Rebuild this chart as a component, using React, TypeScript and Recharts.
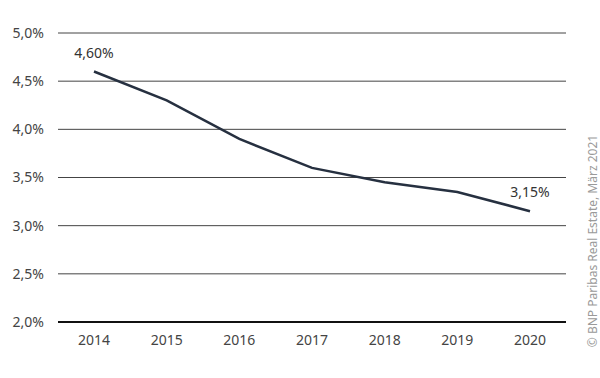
import { CartesianGrid, LabelList, Line, LineChart, ReferenceLine, XAxis, YAxis } from "recharts"

const years = ["2014", "2015", "2016", "2017", "2018", "2019", "2020"]
const yieldValues = [4.6, 4.3, 3.9, 3.6, 3.45, 3.35, 3.15]
const yTicks = [2, 2.5, 3, 3.5, 4, 4.5, 5]

const data = years.map((year, i) => ({ year, value: yieldValues[i] }))

const fmtAxis = (v: number) => v.toFixed(1).replace(".", ",") + "%"
const fmtLabel = (v: number) => v.toFixed(2).replace(".", ",") + "%"

const font = "'Noto Sans', sans-serif"

function EndLabel(props: any) {
  const { x, y, value, index } = props
  if (index !== 0 && index !== data.length - 1) return null
  return (
    <text x={x} y={y - 14} textAnchor="middle" fontSize={14} fill="#333" fontFamily={font}>
      {fmtLabel(value)}
    </text>
  )
}

export default function App() {
  return (
    <div style={{ position: "absolute", left: 0, top: 0, width: 600, height: 378, background: "#fff" }}>
      <LineChart width={600} height={378} data={data} margin={{ top: 33, right: 34, left: 0, bottom: 26 }}>
        <CartesianGrid vertical={false} stroke="#444" strokeWidth={1} />
        <XAxis
          dataKey="year"
          axisLine={false}
          tickLine={false}
          tickSize={0}
          tickMargin={13}
          height={30}
          padding={{ left: 36, right: 36 }}
          tick={{ fontSize: 14, fill: "#444", fontFamily: font }}
        />
        <YAxis
          domain={[2, 5]}
          ticks={yTicks}
          tickFormatter={fmtAxis}
          axisLine={false}
          tickLine={false}
          tickSize={0}
          tickMargin={14}
          width={58}
          tick={{ fontSize: 14, fill: "#444", fontFamily: font }}
        />
        <ReferenceLine y={2} stroke="#111" strokeWidth={2} />
        <Line
          type="linear"
          dataKey="value"
          stroke="#263040"
          strokeWidth={2.5}
          dot={false}
          isAnimationActive={false}
        >
          <LabelList dataKey="value" content={EndLabel} />
        </Line>
      </LineChart>
      <div
        style={{
          position: "absolute",
          left: 592,
          top: 241,
          transform: "translate(-50%, -50%) rotate(-90deg)",
          whiteSpace: "nowrap",
          fontSize: 12,
          color: "#9a9a9a",
          fontFamily: font,
        }}
      >
        © BNP Paribas Real Estate, März 2021
      </div>
    </div>
  )
}
